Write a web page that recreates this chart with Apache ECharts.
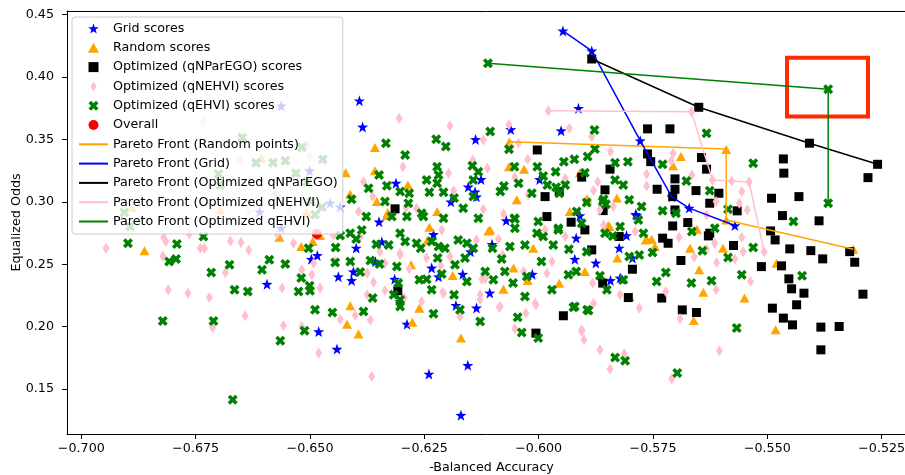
<!DOCTYPE html>
<html>
<head>
<meta charset="utf-8">
<script src="https://cdn.jsdelivr.net/npm/echarts@6/dist/echarts.min.js"></script>
<style>html,body{margin:0;padding:0;background:#fff}#c{width:905px;height:475px}</style>
</head>
<body>
<div id="c"></div>
<script>
// ---------- data ----------
const xTicks = [-0.700, -0.675, -0.650, -0.625, -0.600, -0.575, -0.550, -0.525];
const yTicks = [0.15, 0.20, 0.25, 0.30, 0.35, 0.40, 0.45];

const gridScores = [[-0.5947,0.437],[-0.5884,0.421],[-0.5778,0.349],[-0.5709,0.304],[-0.5671,0.295],[-0.5571,0.281],
[-0.6392,0.381],[-0.6385,0.360],[-0.6138,0.350],[-0.5951,0.357],[-0.5913,0.375],[-0.6061,0.358],
[-0.6126,0.318],[-0.6312,0.315],[-0.6154,0.312],[-0.6139,0.308],[-0.6349,0.284],[-0.5998,0.318],
[-0.6136,0.304],[-0.6192,0.300],[-0.6230,0.274],[-0.6399,0.263],[-0.6343,0.268],[-0.6438,0.240],[-0.6409,0.237],
[-0.6405,0.244],[-0.6357,0.252],[-0.6315,0.238],[-0.6219,0.240],[-0.6166,0.242],[-0.6234,0.247],[-0.6149,0.260],
[-0.6303,0.220],[-0.6181,0.217],[-0.6136,0.215],[-0.6288,0.202],[-0.6107,0.227],[-0.6497,0.254],[-0.6484,0.257],
[-0.6481,0.196],[-0.6441,0.182],[-0.6240,0.162],[-0.6155,0.169],[-0.6170,0.129],[-0.6102,0.266],[-0.5918,0.271],
[-0.5921,0.254],[-0.5875,0.251],[-0.5843,0.237],[-0.5822,0.239],[-0.6014,0.242],[-0.6071,0.285],[-0.5824,0.263],
[-0.5786,0.289],[-0.5910,0.289],[-0.5808,0.273],[-0.5788,0.290],[-0.5818,0.238],[-0.5795,0.255],[-0.6594,0.234],
[-0.6501,0.325],[-0.6610,0.292],[-0.6563,0.279],[-0.6563,0.377],[-0.6456,0.299],[-0.6434,0.296]];

const randomScores = [[-0.6064,0.348],[-0.559,0.342],[-0.559,0.2855],[-0.5312,0.262],
[-0.6358,0.3435],[-0.6358,0.325],[-0.6422,0.3234],[-0.6286,0.3135],[-0.6412,0.3061],[-0.6354,0.3002],[-0.6065,0.3282],
[-0.6032,0.3262],[-0.6048,0.3016],[-0.6222,0.2922],[-0.633,0.2914],[-0.6106,0.2775],[-0.5932,0.2922],[-0.5894,0.3024],
[-0.5829,0.303],[-0.5689,0.3363],[-0.5706,0.329],[-0.5654,0.2781],[-0.5848,0.281],[-0.5828,0.2549],[-0.5764,0.2701],
[-0.5753,0.2701],[-0.5669,0.2629],[-0.5649,0.2455],[-0.564,0.2276],[-0.5661,0.2049],[-0.5597,0.2629],[-0.555,0.2229],
[-0.5482,0.1974],[-0.548,0.2508],[-0.5801,0.2241],[-0.5746,0.2642],[-0.6412,0.2167],[-0.6419,0.202],[-0.6394,0.194],
[-0.6276,0.2036],[-0.6261,0.2148],[-0.6188,0.2409],[-0.617,0.1908],[-0.6077,0.23],[-0.6055,0.2469],[-0.6024,0.2369],
[-0.5955,0.2348],[-0.5899,0.2442],[-0.6494,0.2682],[-0.6478,0.273],[-0.611,0.2767],[-0.6012,0.2629],[-0.6239,0.2797],
[-0.6243,0.2693],[-0.6332,0.289],[-0.6279,0.2495],[-0.5766,0.2695],[-0.5845,0.2802],[-0.591,0.3234],[-0.6862,0.2608],
[-0.6567,0.2717],[-0.6519,0.2642],[-0.6889,0.2957],[-0.6607,0.335],[-0.6508,0.2914],[-0.6696,0.2934]];

const parEgoScores = [[-0.5884,0.4145],[-0.565,0.3758],[-0.5408,0.347],[-0.5259,0.3301],
[-0.5762,0.3585],[-0.5713,0.3585],[-0.5465,0.3344],[-0.5464,0.323],[-0.5644,0.3355],[-0.5762,0.3384],[-0.5755,0.3322],
[-0.5633,0.3262],[-0.5844,0.3262],[-0.5702,0.3184],[-0.5741,0.3101],[-0.5702,0.3101],[-0.5656,0.309],[-0.5606,0.3069],
[-0.5707,0.3042],[-0.5626,0.2989],[-0.5491,0.3029],[-0.5431,0.3042],[-0.528,0.3194],[-0.5566,0.2928],[-0.5467,0.289],
[-0.5387,0.2848],[-0.5707,0.2807],[-0.5674,0.2834],[-0.5493,0.2767],[-0.5626,0.2749],[-0.5702,0.2935],[-0.5729,0.2709],
[-0.5717,0.2668],[-0.5629,0.2727],[-0.5574,0.265],[-0.5483,0.2695],[-0.5451,0.2623],[-0.5405,0.2609],[-0.5379,0.2543],
[-0.532,0.2601],[-0.5309,0.2516],[-0.5513,0.2481],[-0.5469,0.2487],[-0.5689,0.253],[-0.5795,0.246],[-0.586,0.2349],
[-0.5804,0.2233],[-0.5731,0.2229],[-0.5453,0.2383],[-0.5447,0.2303],[-0.542,0.2268],[-0.5436,0.2175],[-0.5291,0.226],
[-0.5489,0.2148],[-0.5465,0.2068],[-0.5445,0.2014],[-0.5383,0.1996],[-0.5343,0.2001],[-0.5383,0.1814],[-0.5686,0.2134],
[-0.5655,0.2113],[-0.5929,0.2837],[-0.5899,0.2775],[-0.5982,0.2882],[-0.5824,0.2722],[-0.5884,0.2615],[-0.5946,0.2087],
[-0.6006,0.1948],[-0.6308,0.2287],[-0.6003,0.3416],[-0.5906,0.3198],[-0.5955,0.3082],[-0.5986,0.3042],[-0.5855,0.3096],
[-0.5859,0.293],[-0.6314,0.2944]];

const nehviScores = [[-0.5979,0.3731],[-0.5666,0.3723],[-0.562,0.3175],[-0.5578,0.3167],[-0.554,0.316],[-0.5507,0.2601],
[-0.6946,0.2629],[-0.6815,0.2682],[-0.6822,0.2567],[-0.681,0.2295],[-0.6767,0.2268],[-0.674,0.2629],[-0.6731,0.2629],
[-0.672,0.2233],[-0.6713,0.1993],[-0.6764,0.2743],[-0.6674,0.2687],[-0.6651,0.2674],[-0.6634,0.2615],[-0.6685,0.2434],
[-0.6642,0.2087],[-0.6634,0.2281],[-0.6561,0.2309],[-0.6558,0.2009],[-0.6536,0.2669],[-0.6518,0.2455],[-0.6496,0.2415],
[-0.6518,0.2001],[-0.6481,0.1788],[-0.6496,0.2295],[-0.6492,0.2508],[-0.6572,0.2743],[-0.6733,0.3643],[-0.6656,0.333],
[-0.6501,0.3362],[-0.6545,0.293],[-0.6634,0.2922],[-0.682,0.2717],[-0.6576,0.3056],[-0.6305,0.367],[-0.6194,0.3609],
[-0.6065,0.3617],[-0.6121,0.3496],[-0.5933,0.359],[-0.5884,0.3523],[-0.5843,0.3403],[-0.6024,0.3342],[-0.6044,0.347],
[-0.6297,0.3282],[-0.6197,0.3229],[-0.6112,0.327],[-0.6144,0.3336],[-0.6383,0.3162],[-0.6267,0.2949],[-0.6186,0.309],
[-0.6121,0.2941],[-0.6363,0.3042],[-0.629,0.2954],[-0.6394,0.2922],[-0.6059,0.3443],[-0.5764,0.3224],[-0.5764,0.3128],
[-0.5871,0.3162],[-0.5942,0.319],[-0.588,0.309],[-0.6052,0.3198],[-0.6023,0.3056],[-0.6077,0.2904],[-0.5837,0.2962],
[-0.5866,0.2935],[-0.5706,0.339],[-0.571,0.3328],[-0.5665,0.3216],[-0.5556,0.3082],[-0.5561,0.2989],[-0.5544,0.2935],
[-0.5612,0.3002],[-0.5633,0.2896],[-0.5866,0.1814],[-0.5844,0.166],[-0.5813,0.1782],[-0.578,0.2148],[-0.5722,0.2281],
[-0.5691,0.2063],[-0.5709,0.1582],[-0.566,0.2557],[-0.5611,0.2514],[-0.5612,0.2295],[-0.5605,0.1806],[-0.5571,0.2541],
[-0.5553,0.2601],[-0.5537,0.2361],[-0.5556,0.2717],[-0.5822,0.2255],[-0.5693,0.2717],[-0.5633,0.262],[-0.5615,0.2669],
[-0.6365,0.16],[-0.6478,0.2309],[-0.6434,0.2057],[-0.6401,0.2089],[-0.6375,0.2255],[-0.6361,0.2356],[-0.6336,0.2289],
[-0.6303,0.2589],[-0.6294,0.2229],[-0.6256,0.2201],[-0.621,0.2276],[-0.6172,0.2081],[-0.6128,0.2215],[-0.6086,0.2156],
[-0.6052,0.1982],[-0.6006,0.2175],[-0.5906,0.196],[-0.5901,0.1894],[-0.588,0.2188],[-0.6124,0.238],[-0.6214,0.2487],
[-0.6445,0.2521],[-0.6336,0.2508],[-0.6375,0.2428],[-0.639,0.2722],[-0.6449,0.2735],[-0.6303,0.2575],[-0.6283,0.2463],
[-0.6245,0.2549],[-0.6194,0.2562],[-0.6208,0.2268],[-0.6128,0.2255],[-0.6136,0.2695],[-0.6212,0.2775],[-0.6368,0.2054],
[-0.6347,0.2601],[-0.6117,0.2383],[-0.6088,0.2703],[-0.6079,0.2575],[-0.6084,0.2161],[-0.6008,0.2188],[-0.6028,0.2108],
[-0.5986,0.2775],[-0.5942,0.2722],[-0.5882,0.2349],[-0.5858,0.2815],[-0.5789,0.2762],[-0.5906,0.1974],[-0.5971,0.2521],
[-0.5982,0.2428],[-0.6033,0.2442],[-0.6653,0.3336],[-0.6507,0.3456],[-0.6469,0.3322]];

const ehviScores = [[-0.6111,0.411],[-0.5367,0.3902],[-0.5367,0.2989],
[-0.6898,0.2669],[-0.6822,0.2046],[-0.6808,0.2521],[-0.6791,0.2663],[-0.6793,0.2541],[-0.6733,0.2722],[-0.6716,0.2434],
[-0.6711,0.2046],[-0.6676,0.2495],[-0.6669,0.1414],[-0.6665,0.2295],[-0.6636,0.2281],[-0.6605,0.2455],[-0.6589,0.2535],
[-0.6565,0.1886],[-0.6554,0.2501],[-0.6525,0.2281],[-0.6519,0.2389],[-0.6512,0.1966],[-0.6503,0.2629],[-0.6501,0.2327],
[-0.65,0.2287],[-0.6489,0.2135],[-0.6906,0.2914],[-0.6893,0.2802],[-0.6648,0.3515],[-0.6618,0.3314],[-0.6581,0.3314],
[-0.6554,0.333],[-0.67,0.3224],[-0.6696,0.3135],[-0.6518,0.3438],[-0.6531,0.3229],[-0.6507,0.3162],[-0.6497,0.3002],
[-0.6489,0.2896],[-0.6472,0.3342],[-0.6474,0.2957],[-0.6334,0.347],[-0.6292,0.3376],[-0.6224,0.3502],[-0.6203,0.3443],
[-0.6106,0.3563],[-0.5878,0.3576],[-0.5877,0.3424],[-0.5893,0.3363],[-0.5833,0.3314],[-0.6349,0.3216],[-0.6222,0.3282],
[-0.6219,0.3216],[-0.6222,0.315],[-0.6145,0.329],[-0.6132,0.3242],[-0.6053,0.3282],[-0.6003,0.3282],[-0.5945,0.3322],
[-0.5922,0.3342],[-0.6065,0.3422],[-0.5963,0.3242],[-0.5899,0.3234],[-0.6332,0.313],[-0.6336,0.3002],[-0.6303,0.3082],
[-0.6245,0.3176],[-0.6239,0.3077],[-0.6208,0.3077],[-0.6185,0.303],[-0.6143,0.3176],[-0.6084,0.3082],[-0.6076,0.3128],
[-0.6044,0.315],[-0.6015,0.3069],[-0.599,0.3208],[-0.5981,0.3135],[-0.5962,0.3117],[-0.5942,0.3135],[-0.5917,0.2922],
[-0.5895,0.2994],[-0.5853,0.2981],[-0.5833,0.3176],[-0.6409,0.3021],[-0.6372,0.3109],[-0.6283,0.3069],[-0.6285,0.2989],
[-0.6256,0.2909],[-0.6165,0.2949],[-0.6053,0.2869],[-0.5955,0.3069],[-0.5957,0.2775],[-0.6387,0.2775],[-0.6143,0.3042],
[-0.5805,0.3322],[-0.5815,0.3135],[-0.5858,0.3021],[-0.6377,0.2882],[-0.6321,0.2882],[-0.6288,0.2882],[-0.6252,0.2882],
[-0.6208,0.2869],[-0.6132,0.2869],[-0.6434,0.273],[-0.6412,0.2749],[-0.6399,0.2703],[-0.6355,0.266],[-0.6328,0.2655],
[-0.6303,0.2749],[-0.6292,0.2682],[-0.6267,0.2669],[-0.6258,0.2629],[-0.6234,0.2682],[-0.6219,0.2642],[-0.6205,0.2629],
[-0.6176,0.2695],[-0.6157,0.2669],[-0.6143,0.2629],[-0.6444,0.2634],[-0.6445,0.2514],[-0.6412,0.2521],[-0.639,0.2437],
[-0.6368,0.253],[-0.6348,0.2501],[-0.631,0.2481],[-0.6307,0.2349],[-0.6317,0.2255],[-0.6261,0.2375],[-0.6245,0.238],
[-0.6234,0.2295],[-0.6212,0.2421],[-0.6221,0.2549],[-0.6183,0.2495],[-0.6161,0.2549],[-0.6157,0.2361],[-0.6117,0.2442],
[-0.6363,0.2229],[-0.6383,0.2121],[-0.6451,0.2113],[-0.6303,0.2161],[-0.6185,0.2255],[-0.6172,0.2135],[-0.623,0.2103],
[-0.6128,0.2041],[-0.6052,0.2863],[-0.6052,0.2789],[-0.6001,0.2842],[-0.6004,0.2749],[-0.599,0.2722],[-0.5957,0.2789],
[-0.5906,0.2829],[-0.5855,0.2749],[-0.5822,0.2802],[-0.5771,0.2749],[-0.6101,0.2629],[-0.6063,0.2642],[-0.603,0.2655],
[-0.5968,0.2655],[-0.5934,0.262],[-0.5895,0.2601],[-0.5802,0.2562],[-0.6081,0.2541],[-0.6074,0.2442],[-0.6099,0.2375],
[-0.6056,0.2349],[-0.6026,0.2401],[-0.5994,0.2521],[-0.5935,0.2415],[-0.5918,0.2442],[-0.5866,0.2407],[-0.5851,0.2295],
[-0.5815,0.2375],[-0.603,0.2241],[-0.5971,0.2295],[-0.5921,0.2161],[-0.5891,0.2129],[-0.6046,0.2076],[-0.5782,0.2855],
[-0.5633,0.355],[-0.5531,0.331],[-0.5729,0.3301],[-0.5677,0.3168],[-0.5626,0.3088],[-0.586,0.3002],[-0.5802,0.3016],
[-0.5775,0.2962],[-0.5729,0.2928],[-0.57,0.2909],[-0.5586,0.2941],[-0.5443,0.2842],[-0.5615,0.2789],[-0.5665,0.2762],
[-0.5838,0.2727],[-0.578,0.2575],[-0.5751,0.2594],[-0.5722,0.2434],[-0.5742,0.2361],[-0.5666,0.2349],[-0.5622,0.2367],
[-0.5642,0.2609],[-0.5586,0.2554],[-0.5531,0.2634],[-0.5556,0.2415],[-0.5424,0.2407],[-0.5567,0.1988],[-0.5833,0.1752],
[-0.5811,0.1726],[-0.5697,0.1628],[-0.6037,0.1952],[-0.6001,0.1908],[-0.5924,0.2156],[-0.5894,0.2135],[-0.6303,0.2215]];

const overallPoint = [[-0.6485,0.2743]];

const randomFront = [[-0.6064,0.3482],[-0.559,0.3424],[-0.559,0.2855],[-0.5312,0.262]];
const gridFront = [[-0.5947,0.437],[-0.5884,0.421],[-0.5778,0.349],[-0.5709,0.304],[-0.5671,0.295],[-0.5571,0.281]];
const parEgoFront = [[-0.5884,0.4145],[-0.565,0.3758],[-0.5408,0.347],[-0.5259,0.3301]];
const nehviFront = [[-0.5979,0.3731],[-0.5666,0.3723],[-0.562,0.3175],[-0.5578,0.3167],[-0.554,0.316],[-0.5507,0.2601]];
const ehviFront = [[-0.6111,0.411],[-0.5367,0.3902],[-0.5367,0.2989]];

const highlightBox = [[-0.5457,0.4155],[-0.5280,0.3685]];

// ---------- symbols ----------
const STAR = 'path://M0,-10 L2.35,-3.24 L9.51,-3.09 L3.8,1.24 L5.88,8.09 L0,4 L-5.88,8.09 L-3.8,1.24 L-9.51,-3.09 L-2.35,-3.24 Z';
const TRI = 'path://M0,-1 L1,0.8 L-1,0.8 Z';
const SQ = 'path://M0,0 L1,0 L1,1 L0,1 Z';
const THIN_D = 'path://M0,-1 L0.6,0 L0,1 L-0.6,0 Z';
const XMARK = 'path://M-1,-0.5 L-0.5,-1 L0,-0.5 L0.5,-1 L1,-0.5 L0.5,0 L1,0.5 L0.5,1 L0,0.5 L-0.5,1 L-1,0.5 L-0.5,0 Z';
const LINE_ICON = 'path://M0,0 L29,0 L29,2 L0,2 Z';

const FONT = 'DejaVu Sans';
const FS = 12.7;
const X_MIN = -0.70313, X_MAX = -0.5175, Y_MIN = 0.11394, Y_MAX = 0.45296;

function scatter(name, data, symbol, size, color, z) {
  return { name, type: 'scatter', data, symbol, symbolSize: size, z: z || 2,
    itemStyle: { color, opacity: 1 }, emphasis: { disabled: true }, silent: true };
}
function front(name, data, color) {
  return { name, type: 'line', data, symbol: 'none', z: 5,
    lineStyle: { color, width: 1.5 }, itemStyle: { color }, emphasis: { disabled: true }, silent: true };
}

const chart = echarts.init(document.getElementById('c'), null, { renderer: 'canvas' });
const ehviFrontSeries = front('Pareto Front (Optimized qEHVI)', ehviFront, '#008000');
ehviFrontSeries.markArea = {
  silent: true,
  itemStyle: { color: 'rgba(0,0,0,0)', borderColor: '#ff2a00', borderWidth: 4 },
  data: [[{ coord: highlightBox[0] }, { coord: highlightBox[1] }]]
};

const scatterNames = ['Grid scores', 'Random scores', 'Optimized (qNParEGO) scores', 'Optimized (qNEHVI) scores',
  'Optimized (qEHVI) scores', 'Overall'];
const frontNames = ['Pareto Front (Random points)', 'Pareto Front (Grid)',
  'Pareto Front (Optimized qNParEGO)', 'Pareto Front (Optimized qNEHVI)', 'Pareto Front (Optimized qEHVI)'];

chart.setOption({
  animation: false,
  backgroundColor: '#fff',
  textStyle: { fontFamily: FONT },
  grid: { left: 67, right: -11, top: 11, bottom: 41, containLabel: false, outerBoundsMode: 'none' },
  xAxis: [{
    type: 'value', min: X_MIN, max: X_MAX, position: 'bottom',
    name: '-Balanced Accuracy', nameLocation: 'middle', nameGap: 27, nameMoveOverlap: false,
    nameTextStyle: { fontFamily: FONT, fontSize: FS, color: '#000' },
    splitLine: { show: false },
    axisLine: { show: true, onZero: false, lineStyle: { color: '#000', width: 1 } },
    axisTick: { show: true, length: 5, lineStyle: { color: '#000' }, customValues: xTicks },
    axisLabel: { customValues: xTicks, margin: 8, fontFamily: FONT, fontSize: FS, color: '#000',
      formatter: v => (v < 0 ? '\u2212' : '') + Math.abs(v).toFixed(3) }
  }, {
    type: 'value', min: X_MIN, max: X_MAX, position: 'top',
    splitLine: { show: false }, axisTick: { show: false }, axisLabel: { show: false },
    axisLine: { show: true, onZero: false, lineStyle: { color: '#000', width: 1 } }
  }],
  yAxis: {
    type: 'value', min: Y_MIN, max: Y_MAX,
    name: 'Equalized Odds', nameLocation: 'middle', nameGap: 44, nameMoveOverlap: false,
    nameTextStyle: { fontFamily: FONT, fontSize: FS, color: '#000' },
    splitLine: { show: false },
    axisLine: { show: true, onZero: false, lineStyle: { color: '#000', width: 1 } },
    axisTick: { show: true, length: 5, lineStyle: { color: '#000' }, customValues: yTicks },
    axisLabel: { customValues: yTicks, margin: 13, fontFamily: FONT, fontSize: FS, color: '#000',
      formatter: v => v.toFixed(2) }
  },
  legend: {
    orient: 'vertical', left: 72, top: 17, padding: [5, 5, 6, 7],
    itemWidth: 29, itemHeight: 10, itemGap: 6.3,
    backgroundColor: 'rgba(255,255,255,0.8)', borderColor: '#cccccc', borderWidth: 1, borderRadius: 3,
    textStyle: { fontFamily: FONT, fontSize: FS, color: '#000' },
    selectedMode: false,
    data: scatterNames.map(n => ({ name: n })).concat(frontNames.map(n => ({ name: n, icon: LINE_ICON })))
  },
  series: [
    scatter('Grid scores', gridScores, STAR, 11, '#0000ff'),
    scatter('Random scores', randomScores, TRI, [10, 9], '#ffa500'),
    scatter('Optimized (qNParEGO) scores', parEgoScores, SQ, 9, '#000000'),
    scatter('Optimized (qNEHVI) scores', nehviScores, THIN_D, [7, 11], '#ffc0cb'),
    scatter('Optimized (qEHVI) scores', ehviScores, XMARK, 10, '#008000'),
    scatter('Overall', overallPoint, 'circle', 10, '#ff0000', 3),
    front('Pareto Front (Random points)', randomFront, '#ffa500'),
    front('Pareto Front (Grid)', gridFront, '#0000ff'),
    front('Pareto Front (Optimized qNParEGO)', parEgoFront, '#000000'),
    front('Pareto Front (Optimized qNEHVI)', nehviFront, '#ffc0cb'),
    ehviFrontSeries
  ]
});
</script>
</body>
</html>
